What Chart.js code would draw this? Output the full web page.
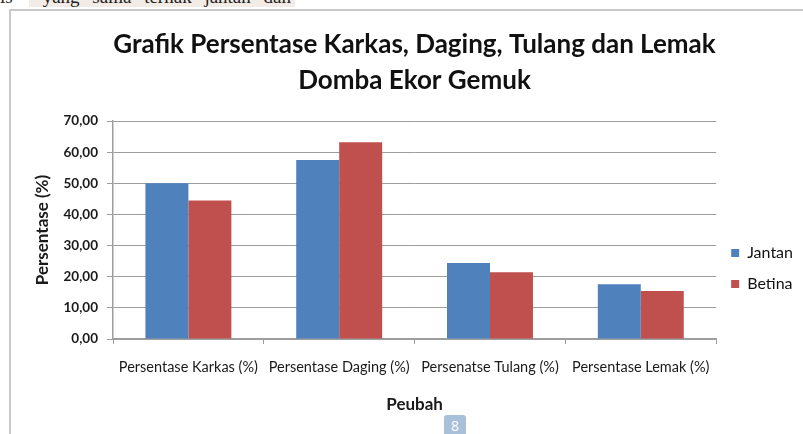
<!DOCTYPE html>
<html>
<head>
<meta charset="utf-8">
<script src="https://cdn.jsdelivr.net/npm/chart.js@4.4.1/dist/chart.umd.min.js"></script>
<style>
    html, body { margin: 0; padding: 0; background: #fff; overflow: hidden; }
    body { width: 803px; height: 434px; position: relative; }
    .top-strip {
        position: absolute; left: 0; top: -13px; height: 20px; width: 372px;
        font-family: "Liberation Serif", serif; font-size: 19px; line-height: 20px;
        color: #222; white-space: nowrap; overflow: hidden;
    }
    .top-strip span { background: #f3ebe5; padding: 0 4px 0 14px; margin-left: 16px; word-spacing: 8px; }
    .frame {
        position: absolute; left: 9px; top: 9px; width: 800px; height: 440px;
        border: 2px solid #c9c9c9; box-sizing: border-box;
    }
    #chartWrap { position: absolute; left: 0; top: 0; width: 803px; height: 434px; }
    .page-no {
        position: absolute; left: 444px; top: 415px; width: 22px; height: 22px;
        background: #a9c0da; color: #fff; border-radius: 3px 3px 0 0;
        font-family: "Open Sans", sans-serif; font-size: 14px; text-align: center; line-height: 22px;
    }
</style>
</head>
<body>
<div class="top-strip">is<span>yang  sama  ternak  jantan  dan</span></div>
<div class="frame"></div>
<div id="chartWrap"><canvas id="chart"></canvas></div>
<div class="page-no">8</div>

<script>
// data
const categories = ['Persentase Karkas (%)', 'Persentase Daging (%)', 'Persenatse Tulang (%)', 'Persentase Lemak (%)'];
const jantan = [50.0, 57.5, 24.4, 17.6];
const betina = [44.5, 63.2, 21.4, 15.4];
const yTicks = [0, 10, 20, 30, 40, 50, 60, 70];

const FONT = 'Lato, "Open Sans", sans-serif';
const gridGray = '#9d9d9d';

const ctx = document.getElementById('chart').getContext('2d');
new Chart(ctx, {
    type: 'bar',
    data: {
        labels: categories,
        datasets: [
            { label: 'Jantan', data: jantan, backgroundColor: '#4f81bd', borderWidth: 0 },
            { label: 'Betina', data: betina, backgroundColor: '#c0504d', borderWidth: 0 }
        ]
    },
    options: {
        responsive: true,
        maintainAspectRatio: false,
        animation: false,
        layout: { padding: { left: 26, right: 0, top: 0, bottom: 19 } },
        datasets: { bar: { categoryPercentage: 0.57, barPercentage: 1.0 } },
        plugins: {
            title: {
                display: true,
                text: ['Grafik Persentase Karkas, Daging, Tulang dan Lemak', 'Domba Ekor Gemuk'],
                color: '#111',
                font: { family: FONT, size: 26, weight: 'bold', lineHeight: 1.35 },
                padding: { top: 27.5, bottom: 23.3 }
            },
            legend: {
                position: 'right',
                align: 'start',
                // empty title only pushes the two entries down to mid height
                title: { display: true, text: ' ', font: { size: 12 }, padding: { top: 0, bottom: 215.6 } },
                labels: {
                    boxWidth: 8, boxHeight: 8, padding: 15,
                    color: '#111',
                    font: { family: FONT, size: 16 }
                }
            },
            tooltip: { enabled: false }
        },
        scales: {
            x: {
                grid: { drawOnChartArea: false, tickLength: 5, color: gridGray },
                border: { color: gridGray, width: 1.5 },
                ticks: { color: '#1a1a1a', font: { family: FONT, size: 14.5 }, padding: 15, maxRotation: 0, autoSkip: false },
                title: { display: true, text: 'Peubah', color: '#1a1a1a', font: { family: FONT, size: 17, weight: 'bold' }, padding: 0 },
                afterFit: (scale) => { scale.height = 76; }
            },
            y: {
                min: 0, max: 70,
                afterBuildTicks: (scale) => { scale.ticks = yTicks.map(v => ({ value: v })); },
                grid: { color: gridGray, tickLength: 6, lineWidth: 1 },
                border: { color: gridGray, width: 1.5 },
                ticks: {
                    color: '#1a1a1a', padding: 9,
                    font: { family: FONT, size: 13.5, weight: 'bold' },
                    callback: (v) => Number(v).toFixed(2).replace('.', ',')
                },
                title: { display: true, text: 'Persentase (%)', color: '#1a1a1a', font: { family: FONT, size: 17, weight: 'bold' }, padding: { top: 6.8, bottom: 0 } },
                afterFit: (scale) => { scale.width = 87; }
            }
        }
    }
});
</script>
</body>
</html>
